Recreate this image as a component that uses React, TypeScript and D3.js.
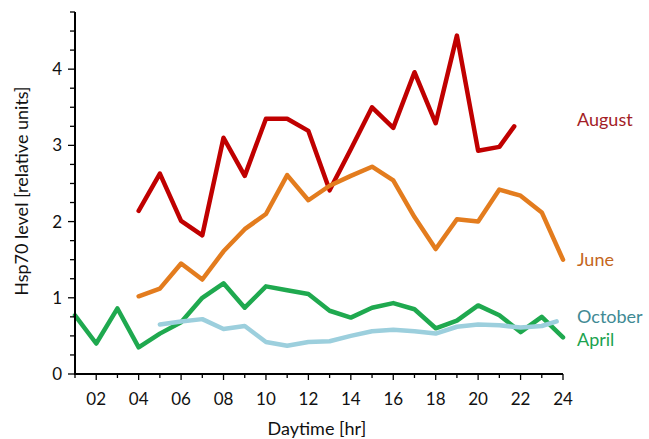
import React from 'react';
import * as d3 from 'd3';

// hour of day for each series
const augustHours = [4, 5, 6, 7, 8, 9, 10, 11, 12, 13, 14, 15, 16, 17, 18, 19, 20, 21, 21.7];
const augustValues = [2.14, 2.63, 2.01, 1.82, 3.1, 2.6, 3.35, 3.35, 3.19, 2.41, 2.95, 3.5, 3.23, 3.96, 3.29, 4.44, 2.93, 2.98, 3.25];

const juneHours = [4, 5, 6, 7, 8, 9, 10, 11, 12, 13, 14, 15, 16, 17, 18, 19, 20, 21, 22, 23, 24];
const juneValues = [1.02, 1.12, 1.45, 1.24, 1.61, 1.9, 2.1, 2.61, 2.28, 2.47, 2.6, 2.72, 2.54, 2.06, 1.64, 2.03, 2.0, 2.42, 2.34, 2.12, 1.5];

const aprilHours = [1, 2, 3, 4, 5, 6, 7, 8, 9, 10, 11, 12, 13, 14, 15, 16, 17, 18, 19, 20, 21, 22, 23, 24];
const aprilValues = [0.77, 0.4, 0.86, 0.35, 0.53, 0.68, 1.0, 1.19, 0.87, 1.15, 1.1, 1.05, 0.83, 0.74, 0.87, 0.93, 0.85, 0.6, 0.7, 0.9, 0.77, 0.55, 0.75, 0.48];

const octoberHours = [5, 6, 7, 8, 9, 10, 11, 12, 13, 14, 15, 16, 17, 18, 19, 20, 21, 22, 23, 23.7];
const octoberValues = [0.65, 0.69, 0.72, 0.59, 0.63, 0.42, 0.37, 0.42, 0.43, 0.5, 0.56, 0.58, 0.56, 0.53, 0.62, 0.65, 0.64, 0.61, 0.63, 0.69];

const xTickLabels = ['02', '04', '06', '08', '10', '12', '14', '16', '18', '20', '22', '24'];
const yTickLabels = [0, 1, 2, 3, 4];

const series = [
  { name: 'August', hours: augustHours, values: augustValues, line: '#c00000', label: '#a31d26', labelY: 3.25 },
  { name: 'June', hours: juneHours, values: juneValues, line: '#e37c1e', label: '#c4661c', labelY: 1.42 },
  { name: 'April', hours: aprilHours, values: aprilValues, line: '#1fa94f', label: '#1ba34f', labelY: 0.37 },
  { name: 'October', hours: octoberHours, values: octoberValues, line: '#9ccfdd', label: '#3f8a94', labelY: 0.67 },
];

const W = 649;
const H = 439;
const margin = { left: 75, top: 12, right: 86, bottom: 65 };
const font = 'Lato, "Open Sans", sans-serif';

export default function App() {
  const x = d3.scaleLinear().domain([1, 24]).range([margin.left, W - margin.right]);
  const y = d3.scaleLinear().domain([0, 4.75]).range([H - margin.bottom, margin.top]);

  const line = d3.line<[number, number]>()
    .x(d => x(d[0]))
    .y(d => y(d[1]));

  const hourTicks = d3.range(1, 25);
  const minorY = d3.range(0, 4.76, 0.25);
  const x0 = x(1);
  const y0 = y(0);

  return (
    <svg width={W} height={H} style={{ position: 'absolute', left: 0, top: 0 }}>
      <rect width={W} height={H} fill="#fff" />
      {series.map(s => (
        <path
          key={s.name}
          d={line(s.hours.map((h, i) => [h, s.values[i]] as [number, number])) || ''}
          fill="none"
          stroke={s.line}
          strokeWidth={4.5}
          strokeLinejoin="round"
          strokeLinecap="round"
        />
      ))}
      {/* y axis */}
      <line x1={x0} x2={x0} y1={y(4.75)} y2={y0 + 1} stroke="#000" strokeWidth={2} />
      {minorY.map(v => (
        <line key={v} x1={x0 - (Number.isInteger(v) ? 7 : 5)} x2={x0} y1={y(v)} y2={y(v)} stroke="#000" strokeWidth={1.3} />
      ))}
      {yTickLabels.map(v => (
        <text key={v} x={x0 - 13} y={y(v)} dy="0.36em" textAnchor="end" fontFamily={font} fontSize={17} fill="#111">{v}</text>
      ))}
      {/* x axis */}
      <line x1={x0 - 1} x2={x(24)} y1={y0} y2={y0} stroke="#000" strokeWidth={2} />
      {hourTicks.map(h => (
        <line key={h} x1={x(h)} x2={x(h)} y1={y0} y2={y0 + (h % 2 === 0 ? 6 : 4)} stroke="#000" strokeWidth={1.3} />
      ))}
      {xTickLabels.map(t => (
        <text key={t} x={x(+t)} y={y0 + 31} textAnchor="middle" fontFamily={font} fontSize={17} fill="#111">{t}</text>
      ))}
      <text x={x(12.4)} y={H - 4} textAnchor="middle" fontFamily={font} fontSize={18} fill="#111">Daytime [hr]</text>
      <text transform={`translate(28,${y(2.4)}) rotate(-90)`} textAnchor="middle" fontFamily={font} fontSize={18} fill="#111">Hsp70 level [relative units]</text>
      {series.map(s => (
        <text key={s.name} x={577} y={y(s.labelY)} fontFamily={font} fontSize={18} fill={s.label}>{s.name}</text>
      ))}
    </svg>
  );
}
